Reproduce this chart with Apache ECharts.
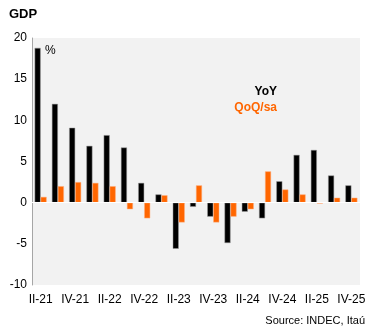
<!DOCTYPE html>
<html><head><meta charset="utf-8">
<script src="https://cdn.jsdelivr.net/npm/echarts@6/dist/echarts.min.js"></script>
<style>html,body{margin:0;padding:0;background:#fff}#c{width:375px;height:330px}</style>
</head><body><div id="c"></div>
<script>
var categories = ['II-21','III-21','IV-21','I-22','II-22','III-22','IV-22','I-23','II-23','III-23','IV-23','I-24','II-24','III-24','IV-24','I-25','II-25','III-25','IV-25'];
var yoy = [18.8, 12.0, 9.1, 6.9, 8.2, 6.7, 2.4, 1.0, -5.6, -0.5, -1.7, -4.9, -1.1, -1.9, 2.6, 5.8, 6.4, 3.3, 2.1];
var qoq = [0.7, 2.0, 2.5, 2.4, 2.0, -0.8, -1.9, 0.9, -2.4, 2.1, -2.4, -1.7, -0.8, 3.8, 1.6, 1.0, -0.1, 0.6, 0.6];
var yTicks = {min: -10, max: 20, interval: 5};

var chart = echarts.init(document.getElementById('c'), null, {renderer: 'canvas'});
var font = 'Arial, "Liberation Sans", sans-serif';
chart.setOption({
  animation: false,
  backgroundColor: '#fff',
  title: {text: 'GDP', left: 4, top: 3, textStyle: {fontFamily: font, fontSize: 13, fontWeight: 'bold', color: '#000'}},
  grid: {left: 32, right: 15, top: 38, bottom: 45, show: true, backgroundColor: '#f2f2f2', borderWidth: 0},
  xAxis: {
    type: 'category', data: categories,
    axisLine: {show: false, onZero: false}, axisTick: {show: false},
    axisLabel: {interval: 1, color: '#000', fontFamily: font, fontSize: 12, margin: 9}
  },
  yAxis: {
    type: 'value', min: yTicks.min, max: yTicks.max, interval: yTicks.interval,
    axisLine: {show: true, lineStyle: {color: '#a6a6a6', width: 1}},
    axisTick: {show: false},
    axisLabel: {color: '#000', fontFamily: font, fontSize: 12, margin: 5},
    splitLine: {show: false}
  },
  series: [
    {name: 'YoY', type: 'bar', data: yoy, barWidth: 6, barGap: '0%',
     itemStyle: {color: '#000', borderColor: '#9a9a9a', borderWidth: 0.5}},
    {name: 'QoQ/sa', type: 'bar', data: qoq, barWidth: 6, barGap: '0%',
     itemStyle: {color: '#ff6600', borderColor: '#ffb080', borderWidth: 0.5},
     markLine: {silent: true, symbol: 'none', label: {show: false},
       lineStyle: {color: '#ffffff', width: 1, type: 'solid'}, data: [{yAxis: 0}]}}
  ],
  graphic: [
    {type: 'text', left: 45, top: 45, style: {text: '%', font: '12px Arial, "Liberation Sans", sans-serif', fill: '#000'}},
    {type: 'text', right: 98, top: 86, style: {text: 'YoY', font: 'bold 12px Arial, "Liberation Sans", sans-serif', fill: '#000'}},
    {type: 'text', right: 98, top: 102, style: {text: 'QoQ/sa', font: 'bold 12px Arial, "Liberation Sans", sans-serif', fill: '#ff6600'}},
    {type: 'text', right: 10, top: 315, style: {text: 'Source: INDEC, Itaú', font: '11px Arial, "Liberation Sans", sans-serif', fill: '#000'}}
  ]
});
</script></body></html>
